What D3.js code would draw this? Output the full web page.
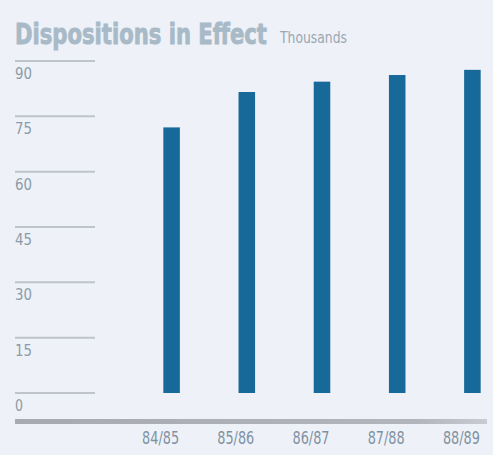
<!DOCTYPE html>
<html><head><meta charset="utf-8">
<script src="https://cdn.jsdelivr.net/npm/d3@7"></script>
<style>html,body{margin:0;padding:0;background:#eef1f8;}svg{display:block;}</style>
</head><body>
<script>
const categories = ["84/85","85/86","86/87","87/88","88/89"];
const values = [72, 81.6, 84.4, 86.2, 87.6];
const tickValues = [0,15,30,45,60,75,90];
const titleText = "Dispositions in Effect";
const unitText = "Thousands";

const W = 493, H = 455;
const svg = d3.select("body").append("svg").attr("width", W).attr("height", H);
svg.append("rect").attr("width", W).attr("height", H).attr("fill", "#eef1f8");

const y = d3.scaleLinear().domain([0, 90]).range([393, 61]);
const x = d3.scaleBand().domain(categories).range([134, 510]).paddingInner(0.78).paddingOuter(0.39);

// fit text horizontally via transform
function fitText(sel, tx, ty, width) {
  const w = sel.node().getComputedTextLength();
  sel.attr("x", 0).attr("y", 0).attr("transform", `translate(${tx},${ty}) scale(${width / w},1)`);
}

// title
const t1 = svg.append("text")
  .attr("font-family", "DejaVu Sans").attr("font-weight", "bold").attr("font-size", 28)
  .attr("fill", "#a8bac7").attr("stroke", "#a8bac7").attr("stroke-width", 0.9)
  .text(titleText);
fitText(t1, 15, 44, 252);
const t2 = svg.append("text")
  .attr("font-family", "DejaVu Sans Condensed, DejaVu Sans").attr("font-size", 16)
  .attr("fill", "#9aa6b0")
  .text(unitText);
fitText(t2, 280, 43, 67);

// gridlines + tick labels
const g = svg.append("g");
tickValues.forEach(v => {
  g.append("line").attr("x1", 15).attr("x2", 95).attr("y1", y(v)).attr("y2", y(v))
    .attr("stroke", "#bfc4ca").attr("stroke-width", 2);
  const t = g.append("text")
    .attr("font-family", "DejaVu Sans Condensed, DejaVu Sans").attr("font-weight", 300).attr("font-size", 15)
    .attr("fill", "#8c9ca8")
    .text(v);
  fitText(t, 15, y(v) + 18, v < 10 ? 8 : 17);
});

// bars
svg.selectAll("rect.bar").data(values).join("rect").attr("class", "bar")
  .attr("x", (d, i) => x(categories[i]))
  .attr("width", x.bandwidth())
  .attr("y", d => y(d))
  .attr("height", d => y(0) - y(d))
  .attr("fill", "#17699a");

// axis bar
const grad = svg.append("defs").append("linearGradient").attr("id", "ax");
grad.append("stop").attr("offset", "0%").attr("stop-color", "#a7abb0");
grad.append("stop").attr("offset", "85%").attr("stop-color", "#b2b6bb");
grad.append("stop").attr("offset", "100%").attr("stop-color", "#c8ccd2");
svg.append("rect").attr("x", 15).attr("y", 419).attr("width", 472).attr("height", 5).attr("fill", "url(#ax)");

// category labels
categories.forEach(c => {
  const t = svg.append("text").attr("class", "cat")
    .attr("font-family", "DejaVu Sans Condensed, DejaVu Sans").attr("font-size", 18)
    .attr("fill", "#7f92a2")
    .text(c);
  fitText(t, x(c) + x.bandwidth() / 2 - 11 - 18.5, 444, 37);
});
</script>
</body></html>
